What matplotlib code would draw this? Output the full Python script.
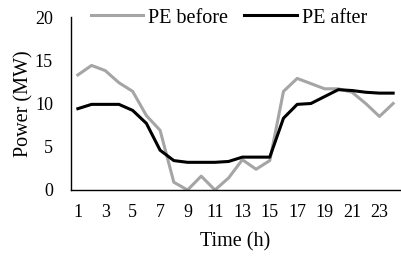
import numpy as np
import matplotlib
matplotlib.use("Agg")
from matplotlib import pyplot as plt

matplotlib.rc("font", family="Liberation Serif")

hours = list(range(1, 25))
pe_before = [13.3, 14.4, 13.8, 12.4, 11.4, 8.6, 6.9, 0.9, 0.0, 1.6, 0.0, 1.4,
             3.5, 2.4, 3.4, 11.4, 12.9, 12.3, 11.7, 11.7, 11.3, 10.0, 8.5, 10.0]
pe_after = [9.4, 9.9, 9.9, 9.9, 9.2, 7.7, 4.6, 3.4, 3.2, 3.2, 3.2, 3.3,
            3.8, 3.8, 3.8, 8.3, 9.9, 10.0, 10.8, 11.6, 11.5, 11.3, 11.2, 11.2]
xtick_labels = [str(h) for h in range(1, 24, 2)]

fig = plt.figure(figsize=(4.01, 2.57), dpi=100)
ax = fig.add_axes([71 / 401, 67 / 257, 329 / 401, 173 / 257])

ax.plot(hours, pe_before, color="#A5A5A5", lw=2.2, label="PE before", solid_joinstyle="round")
ax.plot(hours, pe_after, color="black", lw=2.2, label="PE after", solid_joinstyle="round")

ax.set_xlim(0.5, 24.5)
ax.set_ylim(0, 20)
ax.set_yticks([0, 5, 10, 15, 20])
ax.set_xticks(range(1, 24, 2))
ax.set_xticklabels(xtick_labels)
ax.tick_params(length=0, labelsize=13)
ax.tick_params(axis="x", pad=10)
ax.tick_params(axis="y", pad=13)

for s in ["top", "right"]:
    ax.spines[s].set_visible(False)
for s in ["left", "bottom"]:
    ax.spines[s].set_linewidth(1.0)
    ax.spines[s].set_color("black")

ax.set_xlabel("Time (h)", fontsize=14.5, labelpad=8)
ax.set_ylabel("Power (MW)", fontsize=14.5, labelpad=1)

fig.legend(loc="center", bbox_to_anchor=(229 / 401, 1 - 18 / 257), ncol=2, frameon=False,
           fontsize=14.5, handlelength=2.6, columnspacing=0.8, handletextpad=0.25)

plt.savefig("out.png", dpi=100)
